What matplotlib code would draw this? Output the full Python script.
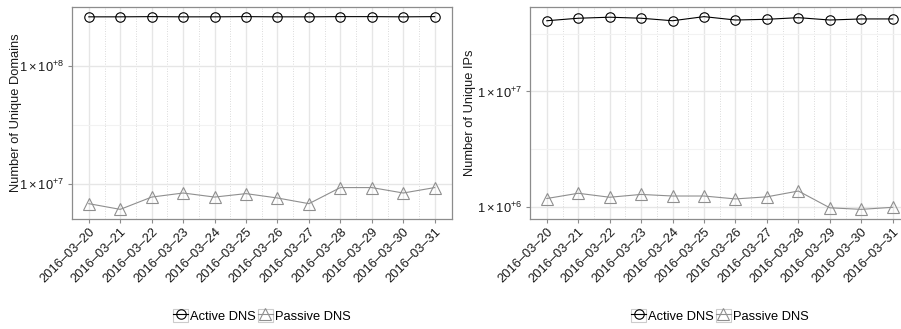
import numpy as np
import matplotlib
matplotlib.use("Agg")
import matplotlib.pyplot as plt
from matplotlib.lines import Line2D
from matplotlib.patches import Rectangle
from matplotlib.ticker import FixedLocator, FuncFormatter, LogLocator

plt.rcParams['font.family'] = ['Liberation Sans', 'DejaVu Sans']
plt.rcParams['mathtext.fontset'] = 'custom'
plt.rcParams['mathtext.rm'] = 'Liberation Sans'
plt.rcParams['mathtext.it'] = 'Liberation Sans:italic'
plt.rcParams['mathtext.bf'] = 'Liberation Sans:bold'

# data
dates = ['2016\u201303\u201320', '2016\u201303\u201321', '2016\u201303\u201322', '2016\u201303\u201323',
         '2016\u201303\u201324', '2016\u201303\u201325', '2016\u201303\u201326', '2016\u201303\u201327',
         '2016\u201303\u201328', '2016\u201303\u201329', '2016\u201303\u201330', '2016\u201303\u201331']

active_domains = [2.60e8, 2.60e8, 2.61e8, 2.60e8, 2.60e8, 2.61e8, 2.60e8, 2.60e8, 2.61e8, 2.61e8, 2.60e8, 2.61e8]
passive_domains = [6.86e6, 6.14e6, 7.80e6, 8.44e6, 7.80e6, 8.34e6, 7.66e6, 6.86e6, 9.38e6, 9.38e6, 8.44e6, 9.38e6]

active_ips = [4.10e7, 4.31e7, 4.40e7, 4.31e7, 4.10e7, 4.45e7, 4.16e7, 4.22e7, 4.36e7, 4.16e7, 4.25e7, 4.25e7]
passive_ips = [1.18e6, 1.31e6, 1.21e6, 1.28e6, 1.24e6, 1.24e6, 1.17e6, 1.22e6, 1.37e6, 0.98e6, 0.95e6, 0.99e6]

series_labels = ['Active DNS', 'Passive DNS']
ylabels = ['Number of Unique Domains', 'Number of Unique IPs']

FS = 9.3
active_style = dict(color='black', marker='o', markersize=6.8, markerfacecolor='none',
                    markeredgewidth=0.8, linewidth=0.8)
passive_style = dict(color='#8f8f8f', marker='^', markersize=8.5, markerfacecolor='none',
                     markeredgewidth=0.8, linewidth=0.8)


def sci_label(v, pos):
    return r'$1\times10^{+%d}$' % int(round(np.log10(v)))


def draw_panel(ax, active, passive, ylabel, label_x):
    x = np.arange(len(dates))
    ax.plot(x, active, zorder=3, **active_style)
    ax.plot(x, passive, zorder=3, **passive_style)

    ax.set_yscale('log')
    # 5% expansion in log space, like the original
    lo = np.log10(min(min(active), min(passive)))
    hi = np.log10(max(max(active), max(passive)))
    pad = 0.05 * (hi - lo)
    ax.set_ylim(10 ** (lo - pad), 10 ** (hi + pad))
    ax.set_xlim(-0.55, len(dates) - 1 + 0.55)

    ax.yaxis.set_major_locator(LogLocator(base=10, numticks=10))
    ax.yaxis.set_major_formatter(FuncFormatter(sci_label))
    halves = [10 ** (k + 0.5) for k in range(4, 10)]
    ax.yaxis.set_minor_locator(FixedLocator(halves))
    ax.yaxis.set_minor_formatter(FuncFormatter(lambda v, p: ''))

    ax.set_xticks(x)
    ax.set_xticklabels(dates, rotation=45, ha='right', va='top', rotation_mode='anchor')
    ax.xaxis.set_minor_locator(FixedLocator(x[:-1] + 0.5))

    ax.tick_params(which='major', length=3, width=0.8, color='#8c8c8c', labelsize=FS,
                   labelcolor='#1a1a1a', pad=2)
    ax.tick_params(which='minor', length=0)

    ax.grid(axis='both', which='major', color='#e6e6e6', linewidth=1.0, linestyle='-')
    ax.grid(axis='y', which='minor', color='#f2f2f2', linewidth=0.8, linestyle='-')
    ax.grid(axis='x', which='minor', color='#cfcfcf', linewidth=0.6, linestyle=(0, (1, 2)))
    ax.set_axisbelow(True)

    for s in ax.spines.values():
        s.set_color('#8c8c8c')
        s.set_linewidth(0.9)

    ax.set_ylabel(ylabel, fontsize=FS, color='#1a1a1a')
    ax.yaxis.set_label_coords(label_x, 0.5)

    handles = [(Rectangle((0, 0), 1, 1, facecolor='white', edgecolor='#cccccc', linewidth=0.8),
                Line2D([], [], **active_style)),
               (Rectangle((0, 0), 1, 1, facecolor='white', edgecolor='#cccccc', linewidth=0.8),
                Line2D([], [], **passive_style))]
    ax.legend(handles, series_labels, loc='center', bbox_to_anchor=(0.5, -0.4575),
              ncol=2, frameon=False, fontsize=FS, handlelength=1.15, handleheight=1.15,
              handletextpad=0.15, columnspacing=0.15, borderpad=0)


fig = plt.figure(figsize=(9.01, 3.29), dpi=100)
W, H = 901, 329
ax1 = fig.add_axes([71.5 / W, (H - 219) / H, 380.5 / W, 212 / H])
ax2 = fig.add_axes([529.5 / W, (H - 219) / H, 380.5 / W, 212 / H])

draw_panel(ax1, active_domains, passive_domains, ylabels[0], -0.130)
draw_panel(ax2, active_ips, passive_ips, ylabels[1], -0.140)

fig.savefig('out.png', dpi=100)
